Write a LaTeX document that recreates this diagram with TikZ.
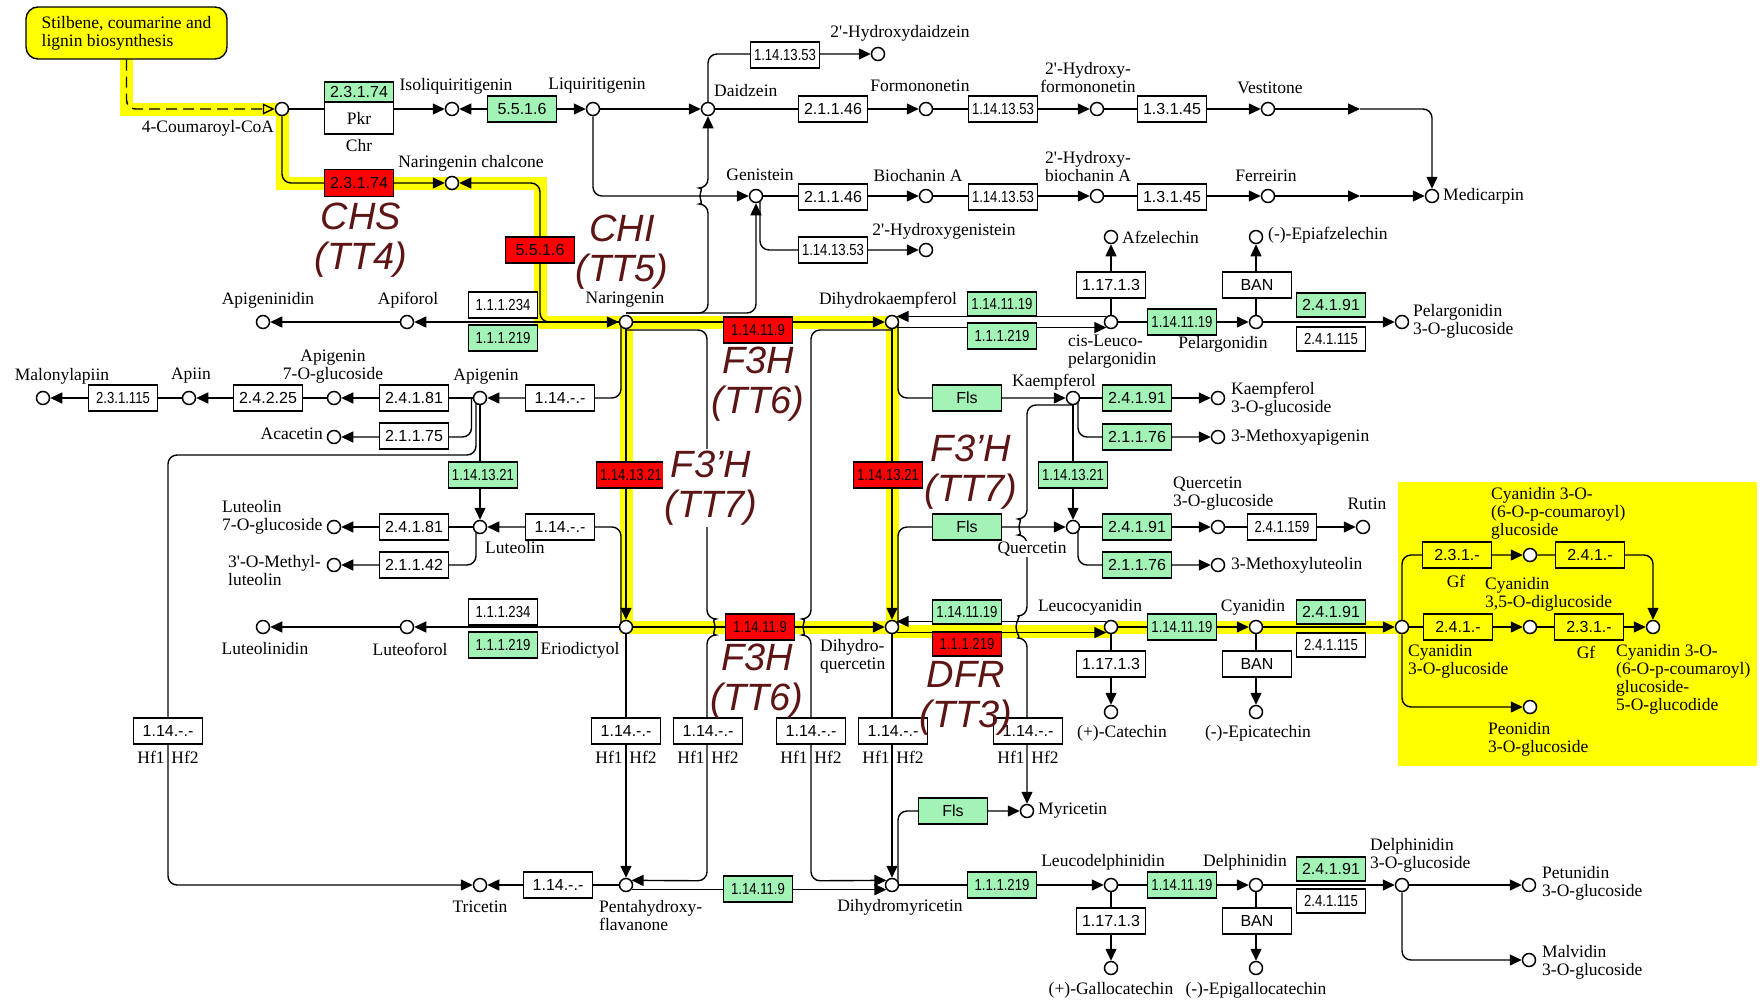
\documentclass[tikz,border=0pt]{standalone}
\usepackage{fontspec}
\usepackage{graphicx}
\usetikzlibrary{arrows.meta,calc}
\pgfdeclarelayer{bandlayer}
\pgfdeclarelayer{linelayer}
\pgfsetlayers{bandlayer,linelayer,main}
\newfontfamily\cpdfam{Liberation Serif}
\newfontfamily\ecfam{Liberation Sans}
\newfontfamily\ecnarrow{Liberation Sans}[FakeStretch=0.82]
\newcommand\cpdfont{\cpdfam\fontsize{17.5}{18}\selectfont}
\newcommand\ecfont{\ecfam\fontsize{16}{18}\selectfont}
\newcommand\ecsfont{\ecnarrow\fontsize{16}{18}\selectfont}
\newcommand\genefont{\ecfam\itshape\fontsize{38}{40}\selectfont}
\definecolor{kgreen}{RGB}{163,243,183}
\definecolor{kred}{RGB}{255,0,0}
\definecolor{kyellow}{RGB}{255,255,0}
\definecolor{kmaroon}{RGB}{92,20,20}
\begin{document}
\begin{tikzpicture}[x=1pt,y=-1pt,
 cpd/.style={circle,draw,fill=white,minimum size=13pt,inner sep=0pt,line width=1.5pt},
 lbl/.style={font=\cpdfont,inner sep=0pt,align=center},
 lbll/.style={font=\cpdfont,inner sep=0pt,align=left},
 ec/.style={draw,fill=white,minimum width=69pt,minimum height=26pt,inner sep=0pt,line width=1.4pt,font=\ecfont},
 ecs/.style={ec,font=\ecsfont},
 grn/.style={fill=kgreen},
 redbox/.style={fill=kred},
 ylw/.style={fill=kyellow},
 rxn/.style={line width=1.4pt},
 arr/.style={rxn,-{Triangle[length=12pt,width=11pt]}},
 arrb/.style={rxn,{Triangle[length=12pt,width=11pt]}-{Triangle[length=12pt,width=11pt]}},
 hiband/.style={line width=13pt,kyellow},
 gene/.style={font=\genefont,text=kmaroon,inner sep=0pt,align=center},
 rcor/.style={rounded corners=9pt}]
\useasboundingbox (0,0) rectangle (1762,999);

% ---------- pathway box ----------
\node[draw,fill=kyellow,rounded corners=12pt,minimum width=201pt,minimum height=52pt,line width=1.4pt,align=left,font=\cpdfont,inner sep=0pt] (stil) at (126.5,33) {Stilbene, coumarine and\\lignin biosynthesis};

% ---------- compounds ----------
\node[cpd] (coum) at (282,109) {};
\node[cpd] (isoliq) at (452,109) {};
\node[cpd] (liq) at (593,109) {};
\node[cpd] (daid) at (708,109) {};
\node[cpd] (hdaid) at (878,54) {};
\node[cpd] (formo) at (926,109) {};
\node[cpd] (hformo) at (1097,109) {};
\node[cpd] (vest) at (1268,109) {};
\node[cpd] (medi) at (1432,196) {};
\node[cpd] (genis) at (756,196) {};
\node[cpd] (bioch) at (926,196) {};
\node[cpd] (hbioch) at (1097,196) {};
\node[cpd] (ferr) at (1268,196) {};
\node[cpd] (hgenis) at (926,250) {};
\node[cpd] (chalc) at (452,183) {};
\node[cpd] (nar) at (626,322) {};
\node[cpd] (apifo) at (407,322) {};
\node[cpd] (apigd) at (263,322) {};
\node[cpd] (dhk) at (892,322) {};
\node[cpd] (cisl) at (1111,322) {};
\node[cpd] (afz) at (1111,237) {};
\node[cpd] (pelar) at (1256,322) {};
\node[cpd] (epiafz) at (1256,237) {};
\node[cpd] (pel3g) at (1402,322) {};
\node[cpd] (apig) at (480,398) {};
\node[cpd] (api7g) at (334,398) {};
\node[cpd] (apiin) at (189,398) {};
\node[cpd] (malon) at (43,398) {};
\node[cpd] (acac) at (334,437) {};
\node[cpd] (lut) at (480,527) {};
\node[cpd] (lut7g) at (334,527) {};
\node[cpd] (mlut) at (334,565) {};
\node[cpd] (erio) at (626,627) {};
\node[cpd] (lutfo) at (407,627) {};
\node[cpd] (lutnd) at (263,627) {};
\node[cpd] (kaem) at (1073,398) {};
\node[cpd] (kaem3g) at (1218,398) {};
\node[cpd] (mapi) at (1218,437) {};
\node[cpd] (quer) at (1073,527) {};
\node[cpd] (quer3g) at (1218,527) {};
\node[cpd] (rutin) at (1363,527) {};
\node[cpd] (mlutx) at (1218,565) {};
\node[cpd] (dhq) at (892,627) {};
\node[cpd] (leuc) at (1111,627) {};
\node[cpd] (cyan) at (1256,627) {};
\node[cpd] (cat) at (1111,712) {};
\node[cpd] (epicat) at (1256,712) {};
\node[cpd] (c3g) at (1402,627) {};
\node[cpd] (c35dg) at (1530,627) {};
\node[cpd] (c3cg5g) at (1653,627) {};
\node[cpd] (c3cg) at (1530,555) {};
\node[cpd] (peon) at (1530,707) {};
\node[cpd] (myric) at (1027,811) {};
\node[cpd] (tric) at (480,885) {};
\node[cpd] (penta) at (626,885) {};
\node[cpd] (dhm) at (892,885) {};
\node[cpd] (leud) at (1111,885) {};
\node[cpd] (delph) at (1256,885) {};
\node[cpd] (gcat) at (1111,968) {};
\node[cpd] (egcat) at (1256,968) {};
\node[cpd] (del3g) at (1402,885) {};
\node[cpd] (petun) at (1529,885) {};
\node[cpd] (malv) at (1529,960) {};

% ---------- enzymes ----------
\node[ec,grn,minimum height=20pt] (e1) at (359,92) {2.3.1.74};
\node[ec,minimum height=32pt,font=\cpdfont] (pkr) at (359,118) {Pkr};
\node[lbl] (chr) at (359,146) {Chr};
\node[ec,redbox,minimum height=27pt] (e2) at (359,183) {2.3.1.74};
\node[ec,grn] (e3) at (522,109) {5.5.1.6};
\node[ec,redbox] (e4) at (540,250) {5.5.1.6};
\node[ecs] (e5) at (785,55) {1.14.13.53};
\node[ec] (e6) at (833,109) {2.1.1.46};
\node[ecs] (e7) at (1003,109) {1.14.13.53};
\node[ec] (e8) at (1172,109) {1.3.1.45};
\node[ec] (e9) at (833,197) {2.1.1.46};
\node[ecs] (e10) at (1003,197) {1.14.13.53};
\node[ec] (e11) at (1172,197) {1.3.1.45};
\node[ecs] (e12) at (833,250) {1.14.13.53};
\node[ecs] (e13) at (503,305) {1.1.1.234};
\node[ecs,grn] (e14) at (503,338) {1.1.1.219};
\node[ec] (e15) at (560,398) {1.14.-.-};
\node[ec] (e16) at (414,398) {2.4.1.81};
\node[ec] (e17) at (268,398) {2.4.2.25};
\node[ecs] (e18) at (123,398) {2.3.1.115};
\node[ec] (e19) at (414,436) {2.1.1.75};
\node[ecs,grn] (e20) at (483,475) {1.14.13.21};
\node[ecs,redbox] (e21) at (631,475) {1.14.13.21};
\node[ec] (e22) at (560,527) {1.14.-.-};
\node[ec] (e23) at (414,527) {2.4.1.81};
\node[ec] (e24) at (414,565) {2.1.1.42};
\node[ecs] (e25) at (503,612) {1.1.1.234};
\node[ecs,grn] (e26) at (503,645) {1.1.1.219};
\node[ecs,redbox] (e27) at (758,330) {1.14.11.9};
\node[ecs,redbox] (e28) at (760,627) {1.14.11.9};
\node[ecs,grn,minimum height=24pt] (e29) at (1002,304) {1.14.11.19};
\node[ecs,grn] (e30) at (1002,336) {1.1.1.219};
\node[ec] (e31) at (1111,285) {1.17.1.3};
\node[ecs,grn] (e32) at (1182,322) {1.14.11.19};
\node[ec] (e33) at (1257,285) {BAN};
\node[ec,grn,minimum height=24pt] (e34) at (1331,305) {2.4.1.91};
\node[ecs,minimum height=24pt] (e35) at (1331,339) {2.4.1.115};
\node[ec,grn] (e36) at (967,398) {Fls};
\node[ec,grn] (e37) at (1137,398) {2.4.1.91};
\node[ec,grn] (e38) at (1137,437) {2.1.1.76};
\node[ecs,redbox] (e39) at (888,475) {1.14.13.21};
\node[ecs,grn] (e40) at (1073,475) {1.14.13.21};
\node[ec,grn] (e41) at (967,527) {Fls};
\node[ec,grn] (e42) at (1137,527) {2.4.1.91};
\node[ecs] (e43) at (1282,527) {2.4.1.159};
\node[ec,grn] (e44) at (1137,565) {2.1.1.76};
\node[ecs,grn,minimum height=24pt] (e45) at (967,612) {1.14.11.19};
\node[ecs,redbox,minimum height=24pt] (e46) at (967,644) {1.1.1.219};
\node[ecs,grn] (e47) at (1182,627) {1.14.11.19};
\node[ec,grn,minimum height=24pt] (e48) at (1331,612) {2.4.1.91};
\node[ecs,minimum height=24pt] (e49) at (1331,645) {2.4.1.115};
\node[ec] (e50) at (1111,664) {1.17.1.3};
\node[ec] (e51) at (1257,664) {BAN};
\node[ec,ylw] (e52) at (1458,627) {2.4.1.-};
\node[ec,ylw] (e53) at (1589,627) {2.3.1.-};
\node[ec,ylw] (e54) at (1457,555) {2.3.1.-};
\node[ec,ylw] (e55) at (1590,555) {2.4.1.-};
\node[lbl] (gf1) at (1456,581) {Gf};
\node[lbl] (gf2) at (1586,652) {Gf};
\node[ec] (h1) at (168,731) {1.14.-.-};
\node[ec] (h2) at (626,731) {1.14.-.-};
\node[ec] (h3) at (708,731) {1.14.-.-};
\node[ec] (h4) at (811,731) {1.14.-.-};
\node[ec] (h5) at (893,731) {1.14.-.-};
\node[ec] (h6) at (1028,731) {1.14.-.-};
\node[lbl] (h1a) at (151,757) {Hf1}; \node[lbl] (h1b) at (185,757) {Hf2};
\node[lbl] (h2a) at (609,757) {Hf1}; \node[lbl] (h2b) at (643,757) {Hf2};
\node[lbl] (h3a) at (691,757) {Hf1}; \node[lbl] (h3b) at (725,757) {Hf2};
\node[lbl] (h4a) at (794,757) {Hf1}; \node[lbl] (h4b) at (828,757) {Hf2};
\node[lbl] (h5a) at (876,757) {Hf1}; \node[lbl] (h5b) at (910,757) {Hf2};
\node[lbl] (h6a) at (1011,757) {Hf1}; \node[lbl] (h6b) at (1045,757) {Hf2};
\node[ec,grn] (e56) at (953,811) {Fls};
\node[ec] (e57) at (558,885) {1.14.-.-};
\node[ecs,grn] (e58) at (758,889) {1.14.11.9};
\node[ecs,grn] (e59) at (1002,885) {1.1.1.219};
\node[ecs,grn] (e60) at (1182,885) {1.14.11.19};
\node[ec] (e61) at (1111,921) {1.17.1.3};
\node[ec] (e62) at (1257,921) {BAN};
\node[ec,grn,minimum height=24pt] (e63) at (1331,869) {2.4.1.91};
\node[ecs,minimum height=24pt] (e64) at (1331,901) {2.4.1.115};

% ---------- compound labels ----------
\node[lbl] (lisoliq) at (456,86) {Isoliquiritigenin};
\node[lbl] (lliq) at (597,86) {Liquiritigenin};
\node[lbl,anchor=west] (ldaid) at (714,91) {Daidzein};
\node[lbl] (lhdaid) at (900,33) {2'-Hydroxydaidzein};
\node[lbl] (lformo) at (920,86) {Formononetin};
\node[lbl] (lhformo) at (1088,77.5) {2'-Hydroxy-\\formononetin};
\node[lbl] (lvest) at (1270,88) {Vestitone};
\node[lbl,anchor=west] (lmedi) at (1443,196) {Medicarpin};
\node[lbl] (lgenis) at (760,175) {Genistein};
\node[lbl] (lbioch) at (918,176) {Biochanin A};
\node[lbl] (lhbioch) at (1088,167) {2'-Hydroxy-\\biochanin A};
\node[lbl] (lferr) at (1266,176) {Ferreirin};
\node[lbl] (lhgenis) at (944,231) {2'-Hydroxygenistein};
\node[lbl] (lcoum) at (208,128) {4-Coumaroyl-CoA};
\node[lbl] (lchalc) at (471,163) {Naringenin chalcone};
\node[lbl] (lapigd) at (268,300) {Apigeninidin};
\node[lbl] (lapifo) at (408,300) {Apiforol};
\node[lbl] (lnar) at (625,300) {Naringenin};
\node[lbl] (ldhk) at (888,300) {Dihydrokaempferol};
\node[lbl,anchor=west] (lafz) at (1122,237) {Afzelechin};
\node[lbl,anchor=west] (lepiafz) at (1268,235) {(-)-Epiafzelechin};
\node[lbll,anchor=west] (lcisl) at (1068,352) {cis-Leuco-\\pelargonidin};
\node[lbl] (lpelar) at (1223,344) {Pelargonidin};
\node[lbll,anchor=west] (lpel3g) at (1413,321.5) {Pelargonidin\\3-O-glucoside};
\node[lbl] (lmalon) at (62,376) {Malonylapiin};
\node[lbl] (lapiin) at (191,376) {Apiin};
\node[lbl] (lapi7g) at (333,367) {Apigenin\\7-O-glucoside};
\node[lbl] (lapig) at (486,377) {Apigenin};
\node[lbl,anchor=east] (lacac) at (323,434) {Acacetin};
\node[lbl] (lkaem) at (1054,382) {Kaempferol};
\node[lbll,anchor=west] (lkaem3g) at (1231,399) {Kaempferol\\3-O-glucoside};
\node[lbl,anchor=west] (lmapi) at (1231,437) {3-Methoxyapigenin};
\node[lbll,anchor=west] (llut7g) at (222,517) {Luteolin\\7-O-glucoside};
\node[lbll,anchor=west] (lmlut) at (228,570.5) {3'-O-Methyl-\\luteolin};
\node[lbl,anchor=west] (llut) at (485,548) {Luteolin};
\node[lbll,anchor=west] (lquer3g) at (1173,494) {Quercetin\\3-O-glucoside};
\node[lbl] (lrutin) at (1367,504) {Rutin};
\node[lbl,anchor=west] (lmlutx) at (1231,565) {3-Methoxyluteolin};
\node[lbl] (lleuc) at (1090,607) {Leucocyanidin};
\node[lbl] (lcyan) at (1253,607) {Cyanidin};
\node[lbl] (lerio) at (580,650) {Eriodictyol};
\node[lbl] (llutnd) at (265,649) {Luteolinidin};
\node[lbl] (llutfo) at (410,649) {Luteoforol};
\node[lbll,anchor=west] (ldhq) at (820,656) {Dihydro-\\quercetin};
\node[lbl] (lcat) at (1122,733) {(+)-Catechin};
\node[lbl] (lepicat) at (1258,733) {(-)-Epicatechin};
\node[lbll,anchor=west] (lc3g) at (1408,661.5) {Cyanidin\\3-O-glucoside};
\node[lbll,anchor=west] (lc35dg) at (1485,594.5) {Cyanidin\\3,5-O-diglucoside};
\node[lbll,anchor=west] (lc3cg) at (1491,513.5) {Cyanidin 3-O-\\(6-O-p-coumaroyl)\\glucoside};
\node[lbll,anchor=west] (lc3cg5g) at (1616,679.5) {Cyanidin 3-O-\\(6-O-p-coumaroyl)\\glucoside-\\5-O-glucodide};
\node[lbll,anchor=west] (lpeon) at (1488,739) {Peonidin\\3-O-glucoside};
\node[lbl,anchor=west] (lmyric) at (1038,811) {Myricetin};
\node[lbl] (ltric) at (480,907) {Tricetin};
\node[lbll,anchor=west] (lpenta) at (599,916) {Pentahydroxy-\\flavanone};
\node[lbl] (ldhm) at (900,907) {Dihydromyricetin};
\node[lbl] (lleud) at (1103,862) {Leucodelphinidin};
\node[lbl] (ldelph) at (1245,862) {Delphinidin};
\node[lbl] (lgcat) at (1111,990) {(+)-Gallocatechin};
\node[lbl] (legcat) at (1256,990) {(-)-Epigallocatechin};
\node[lbll,anchor=west] (ldel3g) at (1370,855.5) {Delphinidin\\3-O-glucoside};
\node[lbll,anchor=west] (lpetun) at (1542,883.5) {Petunidin\\3-O-glucoside};
\node[lbll,anchor=west] (lmalv) at (1542,962.5) {Malvidin\\3-O-glucoside};
\node[lbl,fill=white,inner sep=1pt] (lquer) at (1032,549) {Quercetin};

% ---------- gene labels ----------
\node[gene] (gchs) at (361,240) {CHS\\(TT4)};
\node[gene] (gchi) at (622,252) {CHI\\(TT5)};
\node[gene] (gf3h) at (758,384) {F3H\\(TT6)};
\node[gene,fill=white,inner sep=2pt] (gf3p) at (711,488) {F3’H\\(TT7)};
\node[gene] (gf3q) at (971,472) {F3’H\\(TT7)};
\node[gene] (gf3hb) at (757,681) {F3H\\(TT6)};
\node[gene] (gdfr) at (966,698) {DFR\\(TT3)};

% ---------- highlight bands ----------
\begin{pgfonlayer}{bandlayer}
\fill[white] (0,0) rectangle (1762,999);
\fill[kyellow] (1398,482) rectangle (1757,766);
\draw[hiband] (126.5,59) -- (126.5,109) -- (282,109);
\draw[hiband] (282,109) -- (282,183) -- (540,183) -- (540,322) -- (892,322) -- (892,627);
\draw[hiband] (626,322) -- (626,627) -- (892,627);
\draw[hiband] (892,631) -- (1111,631);
\draw[hiband] (1111,627) -- (1402,627);
\end{pgfonlayer}

% ---------- connectors ----------
\begin{pgfonlayer}{linelayer}
\draw[rxn,dash pattern=on 11pt off 6pt,rcor,-{Triangle[open,length=12pt,width=11pt]}] (stil) |- (coum);
\draw[arr] (coum) -- (isoliq);
\draw[arr,rcor] (coum) |- (chalc);
\draw[arrb] (isoliq) -- (liq);
\draw[arr] (liq) -- (daid);
\draw[arr,rcor] (daid) |- (hdaid);
\draw[arr] (daid) -- (formo);
\draw[arr] (formo) -- (hformo);
\draw[arr] (hformo) -- (vest);
\coordinate (vmid) at (1360,109);
\draw[arr] (vest) -- (vmid);
\draw[arr,rcor] (vmid) -| (medi);
\draw[arr,rcor] (liq) |- (genis);
\draw[arr] (genis) -- (bioch);
\draw[arr] (bioch) -- (hbioch);
\draw[arr] (hbioch) -- (ferr);
\coordinate (fmid) at (1360,196);
\draw[arr] (ferr) -- (fmid);
\draw[arr] (fmid) -- (medi);
\draw[arr,rcor] ($(genis.center)+(4,0)$) |- (hgenis);
\draw[arrb,rcor] (chalc) -- (540,183) -- (540,322) -- (nar);
\draw[arr,rcor] ($(nar.center)+(0,-9)$) -- (708,313) -- (708,204) arc[start angle=270,end angle=90,radius=8pt] -- (daid);
\draw[arr,rcor] ($(nar.center)+(0,-9)$) -| (genis);
\draw[arr] (nar) -- (apifo);
\draw[arr] (apifo) -- (apigd);
\draw[arr] (nar) -- (dhk);
\draw[arr] (nar) -- (erio);
\draw[arr,rcor] ($(nar.center)+(-5,0)$) |- (apig);
\draw[arr,rcor] ($(erio.center)+(-5,0)$) |- (lut);
\draw[arr] (apig) -- (api7g);
\draw[arr] (api7g) -- (apiin);
\draw[arr] (apiin) -- (malon);
\draw[arr,rcor] ($(apig.center)+(-8.5,0)$) |- (acac);
\draw[arr,rcor] ($(apig.center)+(-4,0)$) |- (168,455) |- (tric);
\draw[arr] (apig) -- (lut);
\draw[arr] (lut) -- (lut7g);
\draw[arr,rcor] ($(lut.center)+(-4,0)$) |- (mlut);
\draw[arr] (erio) -- (lutfo);
\draw[arr] (lutfo) -- (lutnd);
\draw[arr] (erio) -- (dhq);
\draw[arr] (erio) -- (penta);
\draw[arr,rcor] ($(nar.center)+(0,8)$) -- (707,330) -- (707,619) arc[start angle=90,end angle=-90,radius=8pt] -- (707,880.8) -- (penta.40);
\draw[arr,rcor] ($(dhk.center)+(0,8)$) -- (811,330) -- (811,619) arc[start angle=90,end angle=270,radius=8pt] -- (811,880.8) -- (dhm.140);
\draw[arr] (penta.-40) -- (dhm.-140);
\draw[arr] (penta) -- (tric);
\draw[arr] (dhq) -- (dhm);
\draw[arr,rcor] ($(kaem.center)+(0,7)$) -- (1027,405) -- (1027,519) arc[start angle=90,end angle=270,radius=8pt] -- (1027,616) arc[start angle=90,end angle=270,radius=11pt] -- (myric);
\draw[arr] (dhk) -- (dhq);
\draw[arr,rcor] ($(dhk.center)+(6,0)$) |- (kaem);
\draw[arr,rcor] ($(dhq.center)+(6,0)$) |- (quer);
\draw[arr] (kaem) -- (kaem3g);
\draw[arr,rcor] ($(kaem.center)+(5,0)$) |- (mapi);
\draw[arr] (kaem) -- (quer);
\draw[arr] (quer) -- (quer3g);
\draw[arr] (quer3g) -- (rutin);
\draw[arr,rcor] ($(quer.center)+(5,0)$) |- (mlutx);
\draw[arr] (cisl.130) -- (dhk.50);
\draw[arr] (dhk.-50) -- (cisl.-130);
\draw[arr] (leuc.130) -- (dhq.50);
\draw[arr] (dhq.-50) -- (leuc.-130);
\draw[arr] (cisl) -- (afz);
\draw[arr] (cisl) -- (pelar);
\draw[arr] (pelar) -- (epiafz);
\draw[arr] (pelar) -- (pel3g);
\draw[arr] (leuc) -- (cyan);
\draw[arr] (leuc) -- (cat);
\draw[arr] (cyan) -- (epicat);
\draw[arr] (cyan) -- (c3g);
\draw[arr] (c3g) -- (c35dg);
\draw[arr] (c35dg) -- (c3cg5g);
\draw[arr,rcor] (c3g) |- (c3cg);
\draw[arr,rcor] (c3cg) -| (c3cg5g);
\draw[arr,rcor] (c3g) |- (peon);
\draw[arr,rcor] ($(dhm.center)+(6,0)$) |- (myric);
\draw[arr] (dhm) -- (leud);
\draw[arr] (leud) -- (delph);
\draw[arr] (leud) -- (gcat);
\draw[arr] (delph) -- (egcat);
\draw[arr] (delph) -- (del3g);
\draw[arr] (del3g) -- (petun);
\draw[arr,rcor] (del3g) |- (malv);
\end{pgfonlayer}
\end{tikzpicture}
\end{document}
